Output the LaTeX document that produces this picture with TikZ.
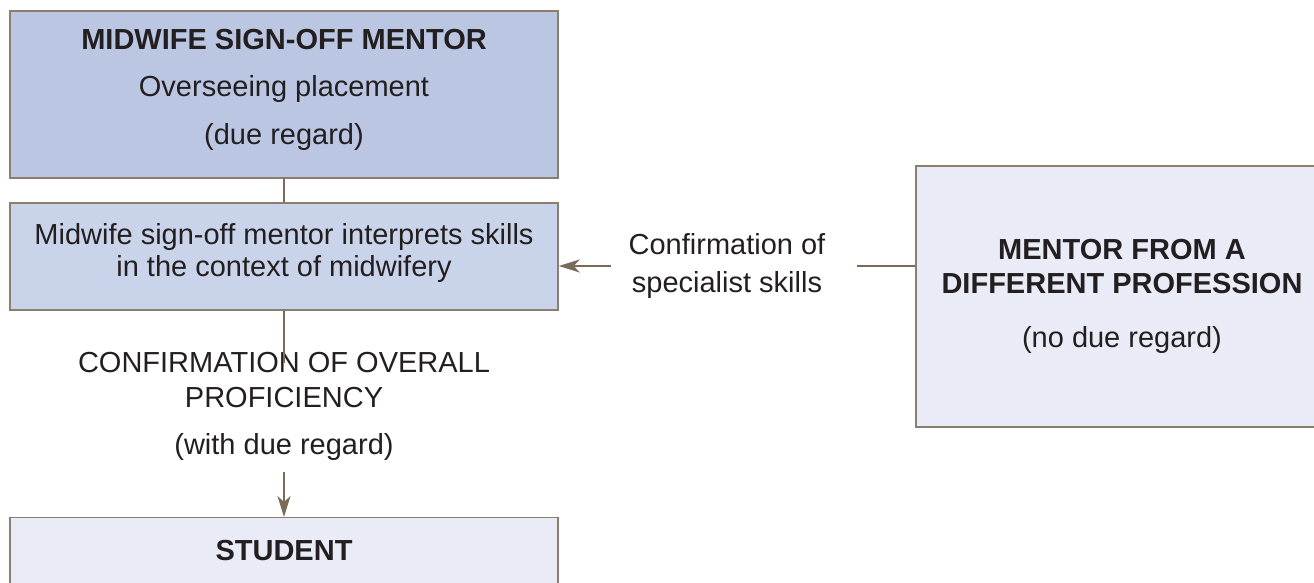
\documentclass[tikz,border=0pt]{standalone}
\usepackage{fontspec}
\setmainfont{Liberation Sans}
\usetikzlibrary{arrows.meta}
\definecolor{boxdark}{RGB}{187,199,226}
\definecolor{boxmid}{RGB}{201,211,233}
\definecolor{boxlight}{RGB}{233,236,246}
\definecolor{edgebrown}{RGB}{139,126,111}
\definecolor{arrowbrown}{RGB}{122,106,88}
\definecolor{inkgrey}{RGB}{35,31,32}
\newcommand{\BigText}{\fontsize{29}{34}\selectfont}
\newcommand{\BoxNode}[4][]{\node[panel, #1] (#2) at #3 {#4};}
\tikzset{
	panel/.style={draw=edgebrown, line width=1.4pt, rectangle, align=center, inner sep=0pt, text=inkgrey, font=\BigText},
	tag/.style={align=center, inner sep=0pt, text=inkgrey, font=\BigText},
	link/.style={draw=arrowbrown, line width=2pt},
	arr/.style={link, -{Stealth[length=21pt, width=13pt, inset=6pt]}}
}
\begin{document}
\begin{tikzpicture}[x=1pt, y=-1pt]
\useasboundingbox (0,0) rectangle (1314,583);
	\BoxNode[fill=boxdark, minimum width=548pt, minimum height=167pt]{top}{(284,94.5)}{\textbf{MIDWIFE SIGN-OFF MENTOR}\\[13.5pt] Overseeing placement\\[13.5pt] (due regard)\\[-18pt]}
	\BoxNode[fill=boxmid, minimum width=548pt, minimum height=107pt]{mid}{(284,256.5)}{Midwife sign-off mentor interprets skills\\[-2pt] in the context of midwifery\\[-20pt]}
	\BoxNode[fill=boxlight, minimum width=412pt, minimum height=261pt]{other}{(1122,296.5)}{\textbf{MENTOR FROM A}\\ \textbf{DIFFERENT PROFESSION}\\[20pt] (no due regard)}
	\BoxNode[fill=boxlight, minimum width=548pt, anchor=north, text height=21pt, text depth=60pt, inner ysep=22pt]{student}{(284,517)}{\textbf{STUDENT}}

	\node[tag] (overall) at (284,406) {CONFIRMATION OF OVERALL\\[1pt] PROFICIENCY\\[13pt] (with due regard)};
	\node[tag] (spec) at (727,266) {Confirmation of\\[4pt] specialist skills};

	\draw[link] (top) -- (mid);
	\draw[link] (mid) -- ([yshift=-11pt]overall.north);
	\draw[arr] ([yshift=-12pt]overall.south) -- (student);
	\draw[link] (other.west |- spec.east) -- ([xshift=31pt]spec.east);
	\draw[arr] ([xshift=-17pt]spec.west) -- (spec.west -| mid.east);

\end{tikzpicture}
\end{document}
